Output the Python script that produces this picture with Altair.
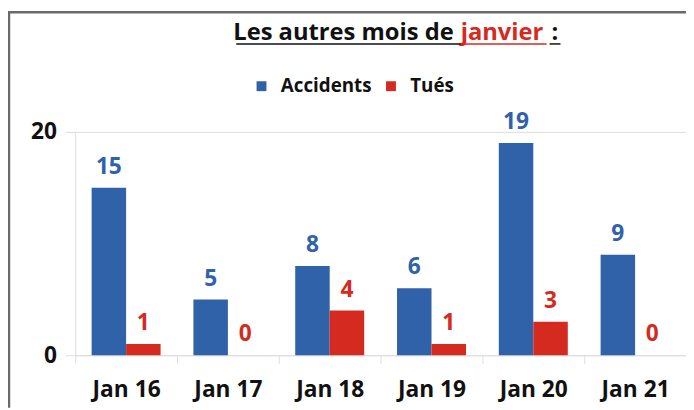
import altair as alt
import pandas as pd

# ---- data ----
months = ["Jan 16", "Jan 17", "Jan 18", "Jan 19", "Jan 20", "Jan 21"]
accidents = [15, 5, 8, 6, 19, 9]
tues = [1, 0, 4, 1, 3, 0]
series = ["Accidents", "Tués"]
series_colors = ["#2F62A8", "#D52A1F"]
title_parts = ["Les autres mois de", "janvier", ":"]
y_ticks = [0, 20]

FONT = "Open Sans"
BLUE, RED = series_colors
GRID = "#dedede"

rows = []
for m, a, t in zip(months, accidents, tues):
    rows.append({"mois": m, "serie": series[0], "valeur": a})
    rows.append({"mois": m, "serie": series[1], "valeur": t})
df = pd.DataFrame(rows)
one = pd.DataFrame({"k": [0]})

x = alt.X(
    "mois:N", sort=months,
    scale=alt.Scale(paddingInner=0, paddingOuter=0),
    axis=alt.Axis(title=None, labelAngle=0, labelFontSize=23, labelFontWeight="bold",
                  labelColor="#111111", labelFont=FONT, labelPadding=16,
                  tickBand="extent", tickSize=8, tickColor=GRID, domainColor=GRID,
                  grid=False),
)
xo = alt.XOffset("serie:N", sort=series,
                 scale=alt.Scale(paddingOuter=0.476, paddingInner=0))
y = alt.Y(
    "valeur:Q",
    scale=alt.Scale(domain=[0, 20], nice=False),
    axis=alt.Axis(title=None, values=y_ticks, labelFontSize=23, labelFontWeight="bold",
                  labelColor="#111111", labelFont=FONT, labelPadding=9,
                  tickSize=10, tickColor=GRID, domainColor=GRID, gridColor=GRID),
)
color = alt.Color(
    "serie:N", sort=series,
    scale=alt.Scale(domain=series, range=series_colors),
    legend=alt.Legend(title=None, orient="none", legendX=179, legendY=-56,
                      direction="horizontal", symbolType="square", symbolSize=100,
                      symbolStrokeWidth=0, labelFontSize=19, labelFontWeight="bold",
                      labelFont=FONT, labelColor="#111111", columnPadding=10,
                      labelOffset=10),
)

bars = alt.Chart(df).mark_bar(strokeWidth=0).encode(x=x, xOffset=xo, y=y, color=color)

labels = alt.Chart(df).mark_text(
    baseline="alphabetic", dy=-14, fontSize=23, fontWeight="bold", font=FONT
).encode(
    x=x, xOffset=xo, y=y, text="valeur:Q",
    color=alt.condition(alt.datum.serie == series[0], alt.value(BLUE), alt.value(RED)),
)

# ---- title pieces (mixed colours, underlined) ----
TY = -93
TS = 24
t1 = alt.Chart(one).mark_text(text=title_parts[0], align="right", baseline="alphabetic",
                              fontSize=TS, fontWeight="bold", font=FONT, color="#111111"
                              ).encode(x=alt.value(383), y=alt.value(TY))
t2 = alt.Chart(one).mark_text(text=title_parts[1], align="left", baseline="alphabetic",
                              fontSize=TS, fontWeight="bold", font=FONT, color=RED
                              ).encode(x=alt.value(390), y=alt.value(TY))
t3 = alt.Chart(one).mark_text(text=title_parts[2], align="left", baseline="alphabetic",
                              fontSize=TS, fontWeight="bold", font=FONT, color="#111111"
                              ).encode(x=alt.value(482), y=alt.value(TY))
u1 = alt.Chart(one).mark_rule(color="#111111", strokeWidth=1.5).encode(
    x=alt.value(163), x2=alt.value(390), y=alt.value(TY + 4))
u2 = alt.Chart(one).mark_rule(color=RED, strokeWidth=1.5).encode(
    x=alt.value(390), x2=alt.value(477), y=alt.value(TY + 4))
u3 = alt.Chart(one).mark_rule(color="#111111", strokeWidth=1.5).encode(
    x=alt.value(480), x2=alt.value(491), y=alt.value(TY + 4))

# ---- frame ----
f_top = alt.Chart(one).mark_rule(color="#6a6a6a", strokeWidth=2.5).encode(
    x=alt.value(-68), x2=alt.value(620), y=alt.value(-121))
f_left = alt.Chart(one).mark_rule(color="#6a6a6a", strokeWidth=2.5).encode(
    x=alt.value(-67), y=alt.value(-122), y2=alt.value(279))

chart = alt.layer(
    f_top, f_left, t1, t2, t3, u1, u2, u3, bars, labels
).properties(
    width=618, height=226,
    padding={"left": 68, "top": 123, "right": 0, "bottom": 53},
    autosize=alt.AutoSizeParams(type="none"),
    background="white",
).configure_view(stroke=None)

chart.save("out.html", embed_options={"renderer": "svg", "actions": False})
